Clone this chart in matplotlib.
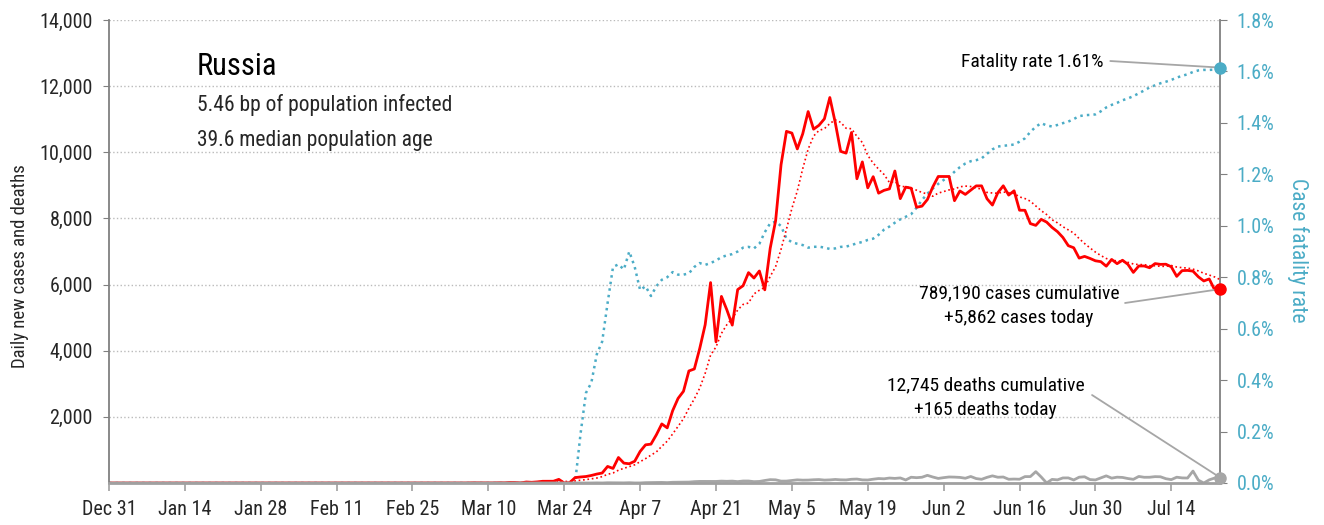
import matplotlib
matplotlib.use('Agg')
import matplotlib.pyplot as plt
import matplotlib.dates as mdates
import matplotlib.font_manager as fm
from matplotlib.ticker import FuncFormatter
import pandas as pd

# daily series, Dec 31 2019 .. Jul 23 2020 (206 days)
dates = pd.date_range('2019-12-31', periods=206, freq='D')

new_cases = [
    0, 0, 0, 0, 0, 0, 0, 0, 0, 0,
    0, 0, 0, 0, 0, 0, 0, 0, 0, 0,
    0, 0, 0, 0, 0, 0, 0, 0, 0, 0,
    0, 0, 2, 0, 0, 0, 0, 0, 0, 0,
    0, 0, 0, 0, 0, 0, 0, 0, 0, 0,
    0, 0, 0, 0, 0, 0, 0, 0, 0, 0,
    0, 0, 0, 1, 0, 0, 1, 6, 4, 0,
    3, 3, 8, 6, 17, 14, 4, 30, 21, 33,
    52, 54, 53, 110, 0, 10, 163, 182, 196, 228,
    270, 302, 501, 440, 771, 601, 582, 658, 954, 1154,
    1175, 1459, 1786, 1667, 2186, 2558, 2774, 3388, 3448, 4070,
    4785, 6060, 4268, 5642, 5236, 4774, 5849, 5966, 6361, 6198,
    6411, 5841, 7099, 7933, 9623, 10633, 10581, 10102, 10559, 11231,
    10699, 10817, 11012, 11656, 10899, 10028, 9974, 10598, 9200, 9709,
    8926, 9263, 8764, 8849, 8894, 9434, 8599, 8946, 8915, 8338,
    8371, 8572, 8952, 9268, 9268, 9268, 8536, 8831, 8726, 8855,
    8984, 8985, 8595, 8404, 8779, 8987, 8706, 8835, 8248, 8246,
    7843, 7790, 7972, 7889, 7728, 7600, 7425, 7176, 7113, 6800,
    6852, 6791, 6719, 6693, 6556, 6760, 6632, 6736, 6611, 6368,
    6562, 6562, 6509, 6635, 6611, 6615, 6537, 6248, 6422, 6428,
    6406, 6234, 6109, 6170, 5842, 5862,
]

new_deaths = [
    0, 0, 0, 0, 0, 0, 0, 0, 0, 0,
    0, 0, 0, 0, 0, 0, 0, 0, 0, 0,
    0, 0, 0, 0, 0, 0, 0, 0, 0, 0,
    0, 0, 0, 0, 0, 0, 0, 0, 0, 0,
    0, 0, 0, 0, 0, 0, 0, 0, 0, 0,
    0, 0, 0, 0, 0, 0, 0, 0, 0, 0,
    0, 0, 0, 0, 0, 0, 0, 0, 0, 0,
    0, 0, 0, 0, 0, 0, 0, 0, 0, 0,
    0, 0, 0, 0, 0, 0, 0, 2, 1, 1,
    4, 1, 8, 7, 8, 4, 9, 2, 2, 11,
    13, 18, 18, 12, 22, 24, 24, 28, 41, 48,
    48, 51, 47, 57, 51, 57, 42, 60, 60, 41,
    47, 76, 101, 96, 57, 58, 76, 95, 86, 88,
    98, 104, 88, 94, 107, 96, 93, 113, 119, 94,
    91, 115, 135, 127, 150, 139, 153, 92, 174, 161,
    174, 232, 181, 138, 162, 182, 178, 169, 144, 197,
    134, 112, 171, 216, 174, 181, 113, 119, 114, 193,
    194, 343, 181, 0, 109, 95, 153, 154, 92, 176,
    188, 104, 93, 154, 216, 147, 176, 168, 135, 111,
    198, 173, 174, 192, 188, 130, 102, 175, 154, 150,
    361, 85, 0, 95, 150, 165,
]

# case fatality rate in percent
fatality_rate = [
    0, 0, 0, 0, 0, 0, 0, 0, 0, 0,
    0, 0, 0, 0, 0, 0, 0, 0, 0, 0,
    0, 0, 0, 0, 0, 0, 0, 0, 0, 0,
    0, 0, 0, 0, 0, 0, 0, 0, 0, 0,
    0, 0, 0, 0, 0, 0, 0, 0, 0, 0,
    0, 0, 0, 0, 0, 0, 0, 0, 0, 0,
    0, 0, 0, 0, 0, 0, 0, 0, 0, 0,
    0, 0, 0, 0, 0, 0, 0, 0, 0, 0,
    0, 0, 0, 0, 0, 0, 0, 0.19, 0.35, 0.39,
    0.50, 0.55, 0.70, 0.84, 0.85, 0.83, 0.90, 0.84, 0.75, 0.765,
    0.727, 0.765, 0.79, 0.80, 0.82, 0.81, 0.81, 0.815, 0.84, 0.855,
    0.848, 0.855, 0.865, 0.878, 0.885, 0.89, 0.90, 0.915, 0.918, 0.912,
    0.93, 0.975, 1.01, 1.016, 0.999, 0.95, 0.936, 0.93, 0.925, 0.915,
    0.918, 0.919, 0.915, 0.91, 0.912, 0.918, 0.919, 0.925, 0.932, 0.937,
    0.945, 0.95, 0.965, 0.985, 0.997, 1.012, 1.025, 1.035, 1.045, 1.07,
    1.10, 1.125, 1.145, 1.163, 1.178, 1.19, 1.21, 1.228, 1.242, 1.251,
    1.255, 1.262, 1.28, 1.297, 1.308, 1.311, 1.313, 1.316, 1.327, 1.34,
    1.365, 1.385, 1.399, 1.39, 1.386, 1.392, 1.399, 1.405, 1.415, 1.426,
    1.43, 1.431, 1.433, 1.445, 1.46, 1.47, 1.478, 1.488, 1.495, 1.504,
    1.515, 1.526, 1.538, 1.546, 1.554, 1.56, 1.567, 1.576, 1.583, 1.589,
    1.598, 1.604, 1.606, 1.606, 1.607, 1.615,
]

country = 'Russia'
info_lines = ['5.46 bp of population infected', '39.6 median population age']
cases_note = ['789,190 cases cumulative', '+5,862 cases today']
deaths_note = ['12,745 deaths cumulative', '+165 deaths today']
cfr_note = 'Fatality rate 1.61%'

RED = '#FF0000'
BLUE = '#4BACC6'
GRAY = '#A6A6A6'
DARK = '#262626'


def pick_font():
    names = {f.name for f in fm.fontManager.ttflist}
    for p in ['Roboto Condensed', 'Liberation Sans Narrow', 'Arial Narrow',
              'Noto Sans Condensed', 'Open Sans Condensed', 'DejaVu Sans Condensed']:
        if p in names:
            return p, 'normal', 1.0
    for f in fm.fontManager.ttflist:
        if str(f.stretch) in ('condensed', 'semi-condensed') and f.style == 'normal':
            return f.name, 'condensed', 1.0
    return 'DejaVu Sans', 'normal', 0.82


family, stretch, k = pick_font()
plt.rcParams['font.family'] = [family, 'DejaVu Sans']
plt.rcParams['font.stretch'] = stretch

cases_trend = pd.Series(new_cases).rolling(7).mean()

fig = plt.figure(figsize=(13.24, 5.25), dpi=100)
ax = fig.add_axes([0.0823, 0.08, 0.8392, 0.8819])
ax2 = ax.twinx()
ax.set_zorder(ax2.get_zorder() + 1)
ax.patch.set_visible(False)

ax2.plot(dates, fatality_rate, color=BLUE, lw=1.8, ls=':')
ax2.plot(dates[-1], fatality_rate[-1], 'o', color=BLUE, ms=8, clip_on=False, zorder=5)

ax.plot(dates, cases_trend, color=RED, lw=1.2, ls=':')
ax.plot(dates, new_cases, color=RED, lw=2)
ax.plot(dates, new_deaths, color=GRAY, lw=2)
ax.plot(dates[-1], new_cases[-1], 'o', color=RED, ms=8, clip_on=False, zorder=5)
ax.plot(dates[-1], new_deaths[-1], 'o', color=GRAY, ms=8, clip_on=False, zorder=5)

ax.set_xlim(dates[0], dates[-1])
ax.set_ylim(0, 14000)
ax2.set_ylim(0, 1.8)

ax.set_yticks(range(2000, 14001, 2000))
ax.yaxis.set_major_formatter(FuncFormatter(lambda v, p: f'{v:,.0f}'))
ax.grid(axis='y', color='#BBBBBB', linestyle=':', linewidth=1)
ax.set_axisbelow(True)

ax.set_xticks(pd.date_range('2019-12-31', '2020-07-23', freq='14D'))
ax.xaxis.set_major_formatter(mdates.DateFormatter('%b %-d'))

ax2.set_yticks([0, 0.2, 0.4, 0.6, 0.8, 1.0, 1.2, 1.4, 1.6, 1.8])
ax2.yaxis.set_major_formatter(FuncFormatter(lambda v, p: f'{v:.1f}%'))

for s in ['top', 'right']:
    ax.spines[s].set_visible(False)
for s in ['top', 'left', 'bottom']:
    ax2.spines[s].set_visible(False)
ax.spines['left'].set_color('#808080')
ax.spines['left'].set_linewidth(1.3)
ax.spines['bottom'].set_color('#A0A0A0')
ax.spines['bottom'].set_linewidth(2)
ax2.spines['right'].set_color('#808080')
ax2.spines['right'].set_linewidth(1.3)

fs = 14.5 * k
ax.tick_params(axis='y', length=4.5, color='#808080', labelsize=fs, labelcolor=DARK, pad=7)
ax.tick_params(axis='x', length=6, width=1.2, color='#A0A0A0', labelsize=fs, labelcolor=DARK, pad=6)
ax2.tick_params(axis='y', length=5, color='#808080', labelsize=fs, labelcolor=BLUE, pad=7)

ax.set_ylabel('Daily new cases and deaths', color=DARK, fontsize=13.5 * k,
              ha='center', va='center')
ax.yaxis.set_label_coords(-0.080, 0.469)
ax2.set_ylabel('Case fatality rate', color=BLUE, fontsize=15.5 * k, rotation=270,
               ha='center', va='center')
ax2.yaxis.set_label_coords(1.0702, 0.503)

ax.text(0.0792, 0.8985, country, transform=ax.transAxes, fontsize=22 * k,
        color='black', ha='left', va='center')
ax.text(0.0792, 0.816, info_lines[0], transform=ax.transAxes, fontsize=15.5 * k,
        color=DARK, ha='left', va='center')
ax.text(0.0792, 0.739, info_lines[1], transform=ax.transAxes, fontsize=15.5 * k,
        color=DARK, ha='left', va='center')

# annotations at the latest day
ax.text(0.8947, 0.909, cfr_note, transform=ax.transAxes, fontsize=14 * k,
        color='black', ha='right', va='center')
ax2.annotate('', xy=(dates[-1], fatality_rate[-1]), xycoords='data',
             xytext=(0.9012, 0.9114), textcoords='axes fraction',
             arrowprops=dict(arrowstyle='-', color=GRAY, lw=1.3, shrinkA=0, shrinkB=0))

ax.text(0.819, 0.41, cases_note[0], transform=ax.transAxes, fontsize=14 * k,
        color='black', ha='center', va='center')
ax.text(0.819, 0.356, cases_note[1], transform=ax.transAxes, fontsize=14 * k,
        color='black', ha='center', va='center')
ax.annotate('', xy=(dates[-1], new_cases[-1]), xycoords='data',
            xytext=(0.9145, 0.3888), textcoords='axes fraction',
            arrowprops=dict(arrowstyle='-', color=GRAY, lw=1.3, shrinkA=0, shrinkB=0))

ax.text(0.789, 0.2117, deaths_note[0], transform=ax.transAxes, fontsize=14 * k,
        color='black', ha='center', va='center')
ax.text(0.789, 0.158, deaths_note[1], transform=ax.transAxes, fontsize=14 * k,
        color='black', ha='center', va='center')
ax.annotate('', xy=(dates[-1], new_deaths[-1]), xycoords='data',
            xytext=(0.8848, 0.19), textcoords='axes fraction',
            arrowprops=dict(arrowstyle='-', color=GRAY, lw=1.3, shrinkA=0, shrinkB=0))

fig.savefig('out.png', dpi=100, facecolor='white')
